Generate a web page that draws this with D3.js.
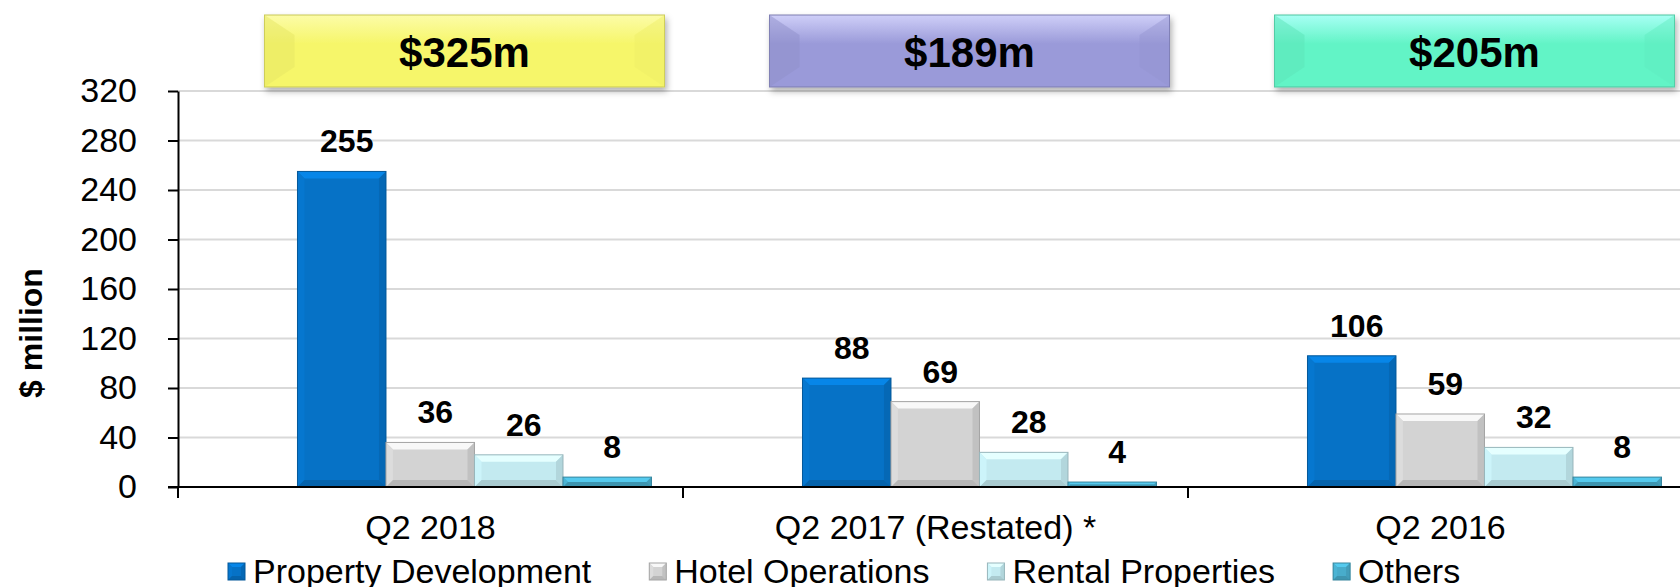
<!DOCTYPE html>
<html>
<head>
<meta charset="utf-8">
<script src="https://cdn.jsdelivr.net/npm/d3@7"></script>
<style>
  html, body { margin: 0; padding: 0; background: #fff; }
  svg { display: block; font-family: "Liberation Sans", Arial, sans-serif; }
</style>
</head>
<body>
<div id="chart"></div>
<script>
(function() {

  var categories = ["Q2 2018", "Q2 2017 (Restated) *", "Q2 2016"],
      seriesNames = ["Property Development", "Hotel Operations", "Rental Properties", "Others"];

  var propertyDevelopment = [255, 88, 106],
      hotelOperations = [36, 69, 59],
      rentalProperties = [26, 28, 32],
      others = [8, 4, 8];

  var totals = ["$325m", "$189m", "$205m"];
  var yTicks = [0, 40, 80, 120, 160, 200, 240, 280, 320];

  var seriesValues = [propertyDevelopment, hotelOperations, rentalProperties, others],
      seriesColors = ["#0672c6", "#d3d3d3", "#c3eaf0", "#48accb"],
      boxColors = [
        {top: "#fcfca8", base: "#f6f66a"},
        {top: "#cfcff8", base: "#9a9ad9"},
        {top: "#a8fff4", base: "#62f4c6"}
      ];

  var width = 1680,
      height = 587;

  var svg = d3.select("#chart").append("svg")
      .attr("width", width)
      .attr("height", height);

  var defs = svg.append("defs");
  defs.append("filter")
      .attr("id", "shadow")
      .attr("x", "-10%").attr("y", "-20%")
      .attr("width", "130%").attr("height", "160%")
    .append("feDropShadow")
      .attr("dx", 2).attr("dy", 4)
      .attr("stdDeviation", 3)
      .attr("flood-color", "#000")
      .attr("flood-opacity", 0.3);

  boxColors.forEach(function(c, i) {
    var grad = defs.append("linearGradient")
        .attr("id", "box" + i)
        .attr("x1", 0).attr("y1", 0).attr("x2", 0).attr("y2", 1);
    grad.append("stop").attr("offset", "0%").attr("stop-color", c.top);
    grad.append("stop").attr("offset", "40%").attr("stop-color", c.base);
    grad.append("stop").attr("offset", "100%").attr("stop-color", c.base);
  });

  var y = d3.scaleLinear()
      .domain([0, 320])
      .range([487, 91]);

  var x0 = d3.scaleBand()
      .domain(categories)
      .range([178, 178 + 3 * 505]);

  var bw = x0.bandwidth();
  var x1 = d3.scaleBand()
      .domain(seriesNames)
      .range([bw * 0.2366, bw * 0.9376]);

  // gridlines
  svg.append("g")
    .selectAll("line")
    .data(yTicks.slice(1))
    .join("line")
      .attr("x1", 178)
      .attr("x2", width)
      .attr("y1", function(d) { return y(d); })
      .attr("y2", function(d) { return y(d); })
      .attr("stroke", "#d9d9d9")
      .attr("stroke-width", 2);

  // y axis
  var yAxis = svg.append("g")
      .attr("transform", "translate(178,0)")
      .call(d3.axisLeft(y).tickValues(yTicks).tickSize(10).tickPadding(31).tickSizeOuter(0));
  yAxis.select(".domain").attr("stroke", "#000").attr("stroke-width", 2);
  yAxis.selectAll(".tick line").attr("stroke", "#000").attr("stroke-width", 2);
  yAxis.selectAll(".tick text")
      .attr("font-family", "Liberation Sans, Arial, sans-serif")
      .attr("font-size", 34)
      .attr("fill", "#000");

  svg.append("text")
      .attr("transform", "translate(31,333) rotate(-90)")
      .attr("text-anchor", "middle")
      .attr("dominant-baseline", "central")
      .attr("font-size", 32)
      .attr("font-weight", "bold")
      .text("$ million");

  function poly(g, pts, fill) {
    g.append("polygon")
        .attr("points", pts.map(function(p) { return p.join(","); }).join(" "))
        .attr("fill", fill);
  }

  function bevel(g, x, yy, w, h, color, b) {
    var c = d3.color(color);
    b = Math.min(b, h / 2, w / 2);
    g.append("rect")
        .attr("x", x).attr("y", yy)
        .attr("width", w).attr("height", h)
        .attr("fill", color);
    poly(g, [[x, yy], [x + w, yy], [x + w - b, yy + b], [x + b, yy + b]], c.brighter(0.45));
    poly(g, [[x, yy], [x + b, yy + b], [x + b, yy + h - b], [x, yy + h]], c.brighter(0.12));
    poly(g, [[x + w, yy], [x + w, yy + h], [x + w - b, yy + h - b], [x + w - b, yy + b]], c.darker(0.25));
    poly(g, [[x, yy + h], [x + b, yy + h - b], [x + w - b, yy + h - b], [x + w, yy + h]], c.darker(0.4));
    g.append("rect")
        .attr("x", x).attr("y", yy)
        .attr("width", w).attr("height", h)
        .attr("fill", "none")
        .attr("stroke", c.darker(0.7))
        .attr("stroke-width", 1);
  }

  // bars
  var bars = svg.append("g");
  categories.forEach(function(cat, ci) {
    seriesNames.forEach(function(s, si) {
      var v = seriesValues[si][ci],
          bx = x0(cat) + x1(s),
          by = y(v);
      var g = bars.append("g");
      bevel(g, bx, by, x1.bandwidth(), y(0) - by, seriesColors[si], 7);
      bars.append("text")
          .attr("x", bx + x1.bandwidth() / 2 + 5)
          .attr("y", by - 19)
          .attr("text-anchor", "middle")
          .attr("font-size", 32)
          .attr("font-weight", "bold")
          .text(v);
    });
  });

  // x axis
  var xAxis = svg.append("g")
      .attr("transform", "translate(0,487)")
      .call(d3.axisBottom(x0).tickSize(0).tickPadding(28));
  xAxis.select(".domain").remove();
  xAxis.selectAll(".tick text")
      .attr("font-family", "Liberation Sans, Arial, sans-serif")
      .attr("font-size", 34)
      .attr("fill", "#000");

  svg.append("line")
      .attr("x1", 168).attr("x2", width)
      .attr("y1", 487).attr("y2", 487)
      .attr("stroke", "#000")
      .attr("stroke-width", 2);

  svg.append("g")
    .selectAll("line")
    .data(categories)
    .join("line")
      .attr("x1", function(d) { return x0(d); })
      .attr("x2", function(d) { return x0(d); })
      .attr("y1", 487)
      .attr("y2", 498)
      .attr("stroke", "#000")
      .attr("stroke-width", 2);

  // total boxes
  var boxW = 400, boxH = 72, boxY = 15, side = 30, topB = 20;
  categories.forEach(function(cat, i) {
    var cx = x0(cat) + bw / 2 + 34,
        bx = cx - boxW / 2;
    var g = svg.append("g");
    g.append("rect")
        .attr("x", bx).attr("y", boxY)
        .attr("width", boxW).attr("height", boxH)
        .attr("fill", "url(#box" + i + ")")
        .attr("stroke", d3.color(boxColors[i].base).darker(0.6))
        .attr("stroke-width", 1)
        .attr("filter", "url(#shadow)");
    var base = d3.color(boxColors[i].base);
    var lp = [[bx, boxY], [bx + side, boxY + topB], [bx + side, boxY + boxH - topB], [bx, boxY + boxH]],
        rp = [[bx + boxW, boxY], [bx + boxW - side, boxY + topB], [bx + boxW - side, boxY + boxH - topB], [bx + boxW, boxY + boxH]];
    g.append("polygon")
        .attr("points", lp.map(function(p) { return p.join(","); }).join(" "))
        .attr("fill", base.darker(0.2)).attr("opacity", 0.5);
    g.append("polygon")
        .attr("points", rp.map(function(p) { return p.join(","); }).join(" "))
        .attr("fill", base.darker(0.1)).attr("opacity", 0.45);
    g.append("text")
        .attr("x", cx)
        .attr("y", 67)
        .attr("text-anchor", "middle")
        .attr("font-size", 42)
        .attr("font-weight", "bold")
        .text(totals[i]);
  });

  // legend
  var legend = svg.append("g"),
      lx = 228;
  seriesNames.forEach(function(s, i) {
    var g = legend.append("g");
    bevel(g, lx, 563, 17, 17, seriesColors[i], 4);
    var t = g.append("text")
        .attr("x", lx + 25)
        .attr("y", 583)
        .attr("font-size", 34)
        .text(s);
    lx += 25 + t.node().getComputedTextLength() + 58;
  });

})();
</script>
</body>
</html>
